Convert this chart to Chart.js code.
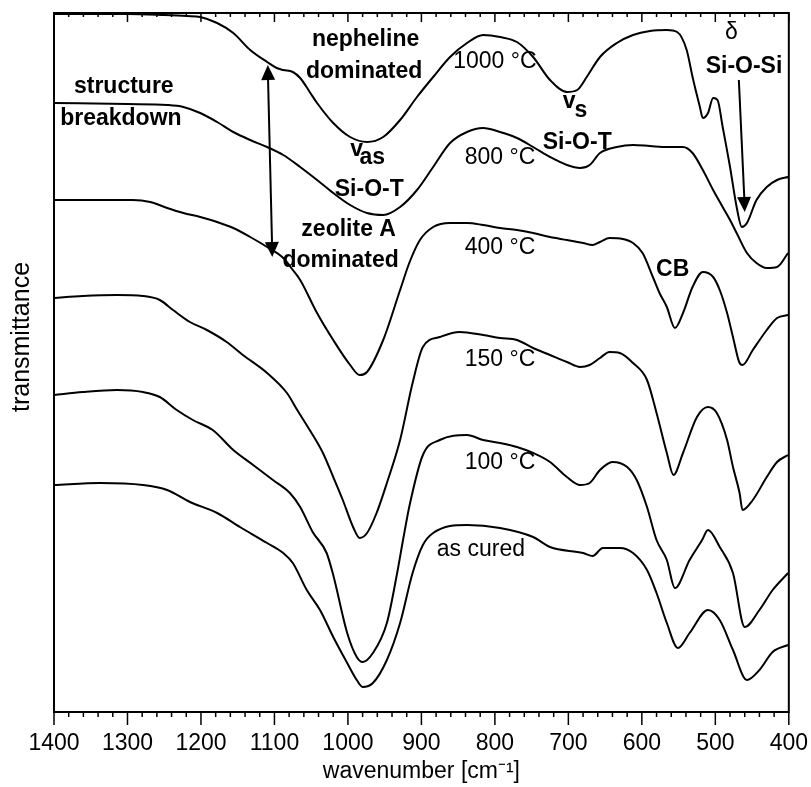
<!DOCTYPE html>
<html>
<head>
<meta charset="utf-8">
<script src="https://cdn.jsdelivr.net/npm/chart.js@4/dist/chart.umd.min.js"></script>
<style>
html,body{margin:0;padding:0;background:#fff;}
#wrap{width:811px;height:787px;}
</style>
</head>
<body>
<div id="wrap"><canvas id="c" width="811" height="787"></canvas></div>
<script>
// ---- data (wavenumber in cm-1, transmittance in arbitrary offset units) ----
const xTickValues = [1400, 1300, 1200, 1100, 1000, 900, 800, 700, 600, 500, 400];
const seriesNames = ['1000 °C', '800 °C', '400 °C', '150 °C', '100 °C', 'as cured'];

const wn1000 = [1400,1300,1250,1219,1201,1178,1156,1133,1110,1097,1088,1075,1065,1052,1042,1020,997,974,952,929,906,884,861,838,816,793,770,748,725,702,688,675,657,634,612,589,566,552,539,531,521,517,510,503,497,490,480,471,464,457,444,430,416,401];
const tr1000 = [69.8,69.8,69.7,69.6,69.5,68.9,67.9,66.2,65.0,64.4,64.2,64.0,63.4,62.0,60.9,58.9,57.5,57.0,57.5,59.2,61.5,63.5,65.5,66.9,67.7,67.5,67.0,65.5,63.2,62.0,62.2,63.5,65.5,66.9,67.7,68.1,68.2,68.0,66.2,63.5,60.5,59.4,59.9,61.4,61.2,58.5,54.5,50.5,48.5,48.9,51.2,52.5,53.2,53.5];

const wn800 = [1400,1300,1246,1224,1201,1178,1156,1133,1110,1088,1065,1042,1020,997,974,952,929,906,884,861,838,816,793,770,748,725,702,684,671,657,634,612,589,566,544,531,517,503,490,480,471,457,444,430,416,401];
const tr800 = [60.9,60.8,60.7,60.5,59.9,59.0,58.0,57.2,56.5,55.7,54.5,53.2,51.9,50.7,49.9,49.7,50.5,52.2,54.5,56.9,58.0,58.4,58.0,57.4,56.5,55.5,54.7,54.4,54.7,55.9,56.5,56.7,56.6,56.5,56.5,55.9,54.2,52.2,50.5,49.2,47.9,45.9,44.9,44.4,44.5,45.9];

const wn400 = [1400,1293,1269,1246,1224,1201,1178,1156,1133,1110,1088,1075,1065,1042,1020,997,984,974,952,929,916,902,884,861,838,816,793,770,748,725,702,680,667,657,644,626,612,599,585,576,566,555,544,531,517,503,494,484,476,467,463,449,430,416,401];
const tr400 = [51.2,51.2,51.0,50.4,49.9,49.5,49.0,48.4,47.5,46.5,45.4,44.2,43.2,39.9,37.2,34.7,33.7,34.0,37.2,42.2,45.0,47.2,48.5,48.9,48.9,48.7,48.4,48.2,47.9,47.5,47.2,46.9,46.7,47.0,47.4,47.3,46.9,45.9,43.5,41.9,40.5,38.4,39.9,42.5,44.0,43.5,42.2,39.9,37.5,34.9,34.7,36.2,38.2,39.4,39.7];

const wn150 = [1400,1361,1314,1279,1256,1238,1215,1192,1165,1143,1110,1083,1069,1052,1034,1020,1007,993,984,974,961,947,929,912,898,875,848,816,793,770,748,725,702,684,671,657,644,630,612,593,580,566,557,544,525,510,498,484,476,467,463,449,430,416,401];
const tr150 = [41.4,41.6,41.7,41.6,41.2,40.2,39.0,38.2,37.0,35.7,33.9,31.9,30.2,28.2,25.9,23.5,21.2,18.5,17.4,17.9,19.9,22.9,27.2,32.9,36.5,37.5,38.0,37.7,37.4,37.2,36.4,35.7,35.0,34.5,34.7,35.4,36.0,35.9,34.9,33.2,29.9,25.9,23.7,25.9,29.5,30.5,29.9,27.2,24.5,21.9,20.2,21.2,23.5,25.0,25.7];

const wn100 = [1400,1361,1314,1279,1256,1233,1211,1184,1156,1129,1102,1079,1065,1048,1029,1020,1001,988,980,966,947,933,925,916,898,875,838,816,793,770,748,725,702,684,671,657,640,620,607,593,580,566,555,535,518,510,494,476,460,440,422,401];
const tr100 = [31.7,32.0,32.2,32.0,31.5,30.2,29.2,28.2,26.2,24.7,23.2,21.9,20.5,18.0,15.9,13.7,7.9,5.5,5.0,5.9,8.9,13.9,17.2,20.7,25.7,27.2,27.7,27.2,26.9,26.5,25.9,25.0,23.5,22.7,22.9,24.2,25.0,24.5,23.2,20.5,17.2,15.2,12.4,15.2,17.2,18.2,16.5,13.9,8.5,10.2,12.2,13.9];

const wnCured = [1400,1337,1279,1246,1215,1178,1147,1110,1088,1075,1056,1038,1020,1001,988,980,966,947,929,912,898,884,838,793,748,725,680,667,653,630,612,593,580,566,551,535,510,494,476,457,440,422,401];
const trCured = [22.7,22.9,22.7,22.2,21.0,19.9,18.5,16.9,15.9,14.9,12.2,10.2,7.5,4.9,3.2,2.5,2.9,5.2,8.9,13.9,16.7,17.9,18.7,18.4,17.5,16.5,15.9,15.6,16.4,16.4,15.9,14.2,11.9,8.9,6.4,7.9,10.2,9.2,6.2,3.2,4.2,6.0,6.7];

// ---- annotations (positions in data units: wavenumber, transmittance) ----
const FONT = "'Liberation Sans', Arial, Helvetica, sans-serif";
const annotationTexts = [
  {t:'nepheline', w:976, v:67.2, bold:true},
  {t:'dominated', w:978, v:64.0, bold:true},
  {t:'structure', w:1305, v:62.5, bold:true},
  {t:'breakdown', w:1309, v:59.3, bold:true},
  {t:'v', w:988, v:56.2, bold:true},
  {t:'as', w:967, v:55.4, bold:true},
  {t:'Si-O-T', w:971, v:52.2, bold:true},
  {t:'zeolite A', w:999, v:48.2, bold:true},
  {t:'dominated', w:1010, v:45.1, bold:true},
  {t:'1000 °C', w:800, v:65.0, bold:false},
  {t:'v', w:699, v:61.0, bold:true},
  {t:'s', w:683, v:60.1, bold:true},
  {t:'Si-O-T', w:688, v:56.9, bold:true},
  {t:'800 °C', w:793, v:55.4, bold:false},
  {t:'400 °C', w:793, v:46.4, bold:false},
  {t:'CB', w:558, v:44.2, bold:true},
  {t:'δ', w:478, v:67.9, bold:false},
  {t:'Si-O-Si', w:461, v:64.5, bold:true},
  {t:'150 °C', w:793, v:35.2, bold:false},
  {t:'100 °C', w:793, v:24.9, bold:false},
  {t:'as cured', w:819, v:16.2, bold:false}
];
const annotationArrows = [
  {w1:1106, v1:55.0, w2:1109, v2:64.7, both:true, w3:1103, v3:45.5},
  {w1:468, v1:63.2, w2:460, v2:50.0, both:false}
];

const seriesWn = [wn1000, wn800, wn400, wn150, wn100, wnCured];
const seriesTr = [tr1000, tr800, tr400, tr150, tr100, trCured];

const datasets = seriesNames.map((name, i) => ({
  label: name,
  data: seriesWn[i].map((w, j) => ({x: w, y: seriesTr[i][j]})),
  borderColor: '#000',
  borderWidth: 2,
  pointRadius: 0,
  fill: false,
  cubicInterpolationMode: 'monotone'
}));

function drawHead(ctx, x1, y1, x2, y2, L, W) {
  const a = Math.atan2(y2 - y1, x2 - x1);
  const c = Math.cos(a), s = Math.sin(a);
  ctx.beginPath();
  ctx.moveTo(x2, y2);
  ctx.lineTo(x2 - L*c + W/2*s, y2 - L*s - W/2*c);
  ctx.lineTo(x2 - L*c - W/2*s, y2 - L*s + W/2*c);
  ctx.closePath();
  ctx.fill();
}

const decorPlugin = {
  id: 'decor',
  afterDraw(chart) {
    const {ctx, chartArea: a, scales: {x, y}} = chart;
    ctx.save();
    ctx.strokeStyle = '#000';
    ctx.fillStyle = '#000';
    // frame
    ctx.lineWidth = 2;
    ctx.strokeRect(a.left, a.top, a.right - a.left, a.bottom - a.top);
    // ticks (top: inward, bottom: outward)
    ctx.lineWidth = 1.5;
    for (let w = 400; w <= 1400; w += 20) {
      const px = x.getPixelForValue(w);
      const major = (w % 100 === 0);
      ctx.beginPath();
      ctx.moveTo(px, a.top);
      ctx.lineTo(px, a.top + (major ? 9 : 4));
      ctx.stroke();
      ctx.beginPath();
      ctx.moveTo(px, a.bottom);
      ctx.lineTo(px, a.bottom + (major ? 13 : 5));
      ctx.stroke();
    }
    // y axis title
    ctx.save();
    ctx.translate(22, 337);
    ctx.rotate(-Math.PI / 2);
    ctx.font = '25px ' + FONT;
    ctx.textAlign = 'center';
    ctx.textBaseline = 'middle';
    ctx.fillText('transmittance', 0, 0);
    ctx.restore();
    // annotation texts
    ctx.textAlign = 'center';
    ctx.textBaseline = 'middle';
    annotationTexts.forEach(o => {
      ctx.font = (o.bold ? 'bold ' : '') + '23px ' + FONT;
      ctx.fillText(o.t, x.getPixelForValue(o.w), y.getPixelForValue(o.v));
    });
    // arrows
    ctx.lineWidth = 2;
    annotationArrows.forEach(o => {
      const xa = x.getPixelForValue(o.w2), ya = y.getPixelForValue(o.v2);
      if (o.both) {
        const xb = x.getPixelForValue(o.w3), yb = y.getPixelForValue(o.v3);
        ctx.beginPath(); ctx.moveTo(xa, ya + 5); ctx.lineTo(xb, yb - 5); ctx.stroke();
        drawHead(ctx, xb, yb, xa, ya, 15, 14);
        drawHead(ctx, xa, ya, xb, yb, 15, 14);
      } else {
        const x1 = x.getPixelForValue(o.w1), y1 = y.getPixelForValue(o.v1);
        ctx.beginPath(); ctx.moveTo(x1, y1); ctx.lineTo(xa, ya - 5); ctx.stroke();
        drawHead(ctx, x1, y1, xa, ya, 15, 14);
      }
    });
    ctx.restore();
  }
};

new Chart(document.getElementById('c'), {
  type: 'line',
  data: { datasets },
  options: {
    responsive: false,
    animation: false,
    devicePixelRatio: 1,
    layout: { padding: { left: 54, right: 22, top: 13, bottom: 0 } },
    plugins: { legend: { display: false }, tooltip: { enabled: false } },
    scales: {
      x: {
        type: 'linear',
        reverse: true,
        min: 400,
        max: 1400,
        position: 'bottom',
        border: { display: false },
        grid: { display: true, drawOnChartArea: false, drawTicks: true, tickLength: 15, color: 'rgba(0,0,0,0)', tickColor: 'rgba(0,0,0,0)' },
        afterBuildTicks: (s) => { s.ticks = xTickValues.map(v => ({value: v})); },
        ticks: { font: { family: FONT, size: 23 }, color: '#000', padding: 3, maxRotation: 0, autoSkip: false, callback: (v) => String(v) },
        title: { display: true, text: 'wavenumber [cm⁻¹]', font: { family: FONT, size: 23 }, color: '#000', padding: { top: 0, bottom: 2 } },
        afterFit: (s) => { s.height = 75; }
      },
      y: {
        display: false,
        min: 0,
        max: 69.9
      }
    }
  },
  plugins: [decorPlugin]
});
</script>
</body>
</html>
